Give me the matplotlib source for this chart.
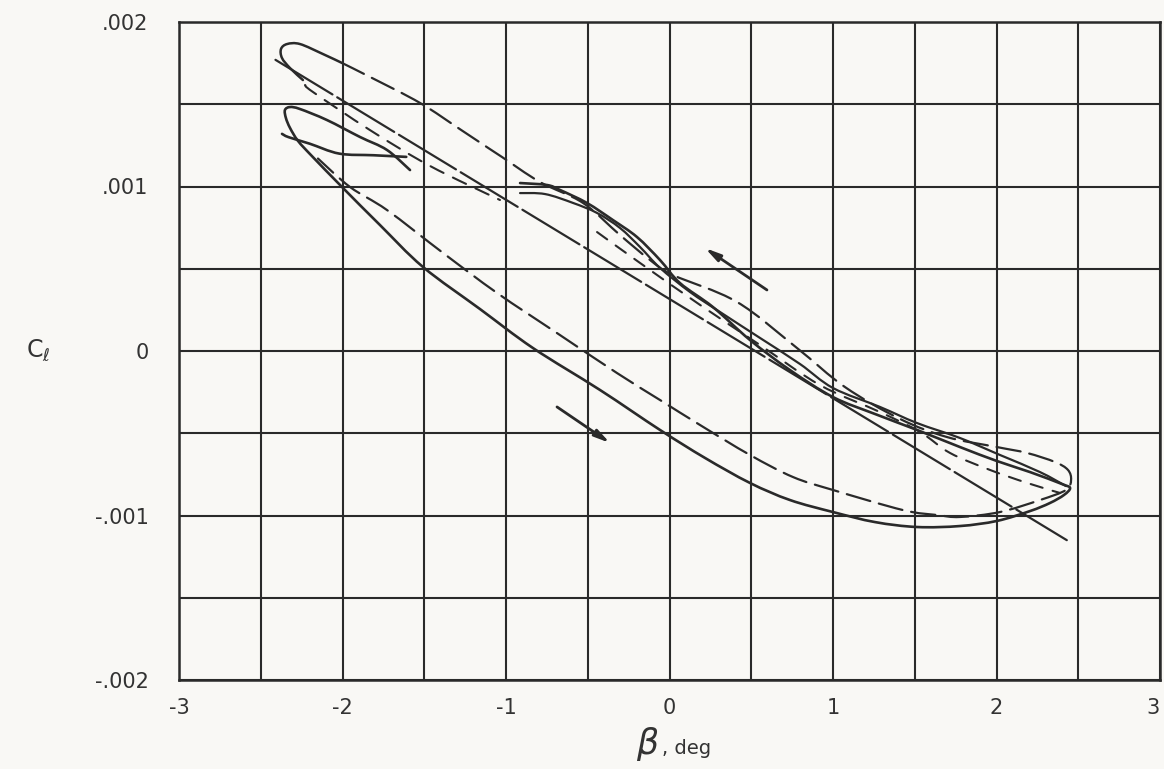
import matplotlib
matplotlib.use("Agg")
import matplotlib.pyplot as plt
from matplotlib.path import Path
from matplotlib.patches import PathPatch
import numpy as np

# ---- data: sideslip angle (deg) and rolling-moment coefficient (units of 0.001) ----
static_beta = [-2.41, 2.43]
static_cl = [1.77, -1.15]

run_a_apex_beta = [-2.242, -2.321, -2.370, -2.376, -2.339, -2.260, -2.119, -2.003]
run_a_apex_cl = [1.647, 1.720, 1.781, 1.836, 1.866, 1.866, 1.805, 1.751]

run_a_beta = [-2.003, -1.820, -1.526, -1.281, -1.116, -1.024, -0.792, -0.529, -0.303,
              -0.119, 0.021, 0.413, 0.780, 1.073, 1.410, 1.697, 2.003, 2.187, 2.358,
              2.437, 2.456, 2.425, 2.266, 2.021, 1.777, 1.636, 1.428, 1.000, 0.755,
              0.492, 0.187, -0.058, -0.321, -0.688, -1.055, -1.385, -1.728, -1.954, -2.150]
run_a_cl = [1.751, 1.660, 1.508, 1.348, 1.239, 1.179, 1.027, 0.900, 0.705,
            0.553, 0.462, 0.298, 0.018, -0.219, -0.413, -0.523, -0.584, -0.620, -0.675,
            -0.723, -0.784, -0.845, -0.906, -0.979, -1.009, -0.997, -0.967, -0.845, -0.766,
            -0.632, -0.450, -0.298, -0.134, 0.109, 0.353, 0.596, 0.857, 0.997, 1.170]

run_a2_beta = [-2.229, -2.180, -1.832, -1.465, -1.037]
run_a2_cl = [1.617, 1.574, 1.343, 1.125, 0.918]

run_b_beta = [-1.587, -1.728, -1.893, -2.095, -2.260, -2.321, -2.352, -2.346, -2.321,
              -2.272, -2.187, -2.003, -1.771, -1.508, -1.159, -0.835, -0.425, -0.058,
              0.217, 0.492, 0.737, 1.000, 1.257, 1.514, 1.777, 2.003, 2.205, 2.327,
              2.413, 2.450, 2.401, 2.205, 2.003, 1.777, 1.514, 1.257, 1.000, 0.737,
              0.492, 0.266, 0.064, -0.058, -0.199, -0.346, -0.505, -0.670, -0.749, -0.914]
run_b_cl = [1.100, 1.222, 1.301, 1.404, 1.471, 1.483, 1.465, 1.416, 1.356,
            1.277, 1.185, 0.997, 0.766, 0.511, 0.255, 0.018, -0.237, -0.480,
            -0.650, -0.802, -0.906, -0.979, -1.040, -1.070, -1.064, -1.033, -0.973, -0.924,
            -0.875, -0.833, -0.809, -0.736, -0.669, -0.584, -0.480, -0.383, -0.280, -0.116,
            0.067, 0.267, 0.413, 0.553, 0.693, 0.796, 0.900, 0.979, 1.009, 1.021]

run_c_beta = [-0.914, -0.761, -0.590, -0.443, -0.303, -0.180, -0.058, 0.125, 0.309,
              0.554, 0.798, 1.000, 1.287, 1.514, 1.777, 2.021, 2.266, 2.425]
run_c_cl = [0.960, 0.954, 0.900, 0.839, 0.748, 0.632, 0.505, 0.359, 0.237,
            0.079, -0.079, -0.225, -0.340, -0.438, -0.529, -0.632, -0.736, -0.821]

run_d_beta = [-0.443, -0.180, 0.187, 0.554, 0.920, 1.287, 1.532, 1.716, 1.960, 2.187, 2.388]
run_d_cl = [0.723, 0.535, 0.280, 0.036, -0.207, -0.371, -0.492, -0.620, -0.723, -0.802, -0.863]

hook_beta = [-2.37, -2.33, -2.20, -2.02, -1.81, -1.61]
hook_cl = [1.32, 1.30, 1.26, 1.20, 1.19, 1.18]

arrow_tail_beta = [-0.688, 0.596]
arrow_tail_cl = [-0.340, 0.371]
arrow_head_beta = [-0.364, 0.217]
arrow_head_cl = [-0.559, 0.626]

x_ticks = [-3, -2.5, -2, -1.5, -1, -0.5, 0, 0.5, 1, 1.5, 2, 2.5, 3]
x_labels = ["-3", "", "-2", "", "-1", "", "0", "", "1", "", "2", "", "3"]
y_ticks = [-0.002, -0.0015, -0.001, -0.0005, 0.0, 0.0005, 0.001, 0.0015, 0.002]
y_labels = ["-.002", "", "-.001", "", "0", "", ".001", "", ".002"]

SCALE = 1e-3
ink = "#2a2a2a"
text_ink = "#333333"
paper = "#f9f8f5"

plt.rcParams["font.family"] = ["DejaVu Sans"]

fig = plt.figure(figsize=(11.64, 7.69), dpi=100, facecolor=paper)
ax = fig.add_axes([179 / 1164, 1 - 680 / 769, 981 / 1164, 658 / 769])
ax.set_facecolor(paper)
ax.set_xlim(-3, 3)
ax.set_ylim(-0.002, 0.002)

ax.set_xticks(x_ticks)
ax.set_xticklabels(x_labels)
ax.set_yticks(y_ticks)
ax.set_yticklabels(y_labels)
ax.tick_params(length=0, labelsize=15, colors=text_ink)
ax.tick_params(axis="x", pad=13)
ax.tick_params(axis="y", pad=22)
# the last x label sits at the figure edge; anchor it on its right side
ax.get_xticklabels()[-1].set_horizontalalignment("right")
ax.grid(True, color=ink, lw=1.5, zorder=1)
ax.set_axisbelow(True)
for s in ax.spines.values():
    s.set_color(ink)
    s.set_linewidth(1.8)


def curve(b, c, **kw):
    """Draw a faired curve through the recorded points (cubic Bezier segments)."""
    pts = np.column_stack([np.asarray(b, float), np.asarray(c, float) * SCALE])
    n = len(pts)
    if n == 2:
        verts = [pts[0], pts[1]]
        codes = [Path.MOVETO, Path.LINETO]
    else:
        ext = np.vstack([pts[0], pts, pts[-1]])
        verts = [pts[0]]
        codes = [Path.MOVETO]
        for i in range(n - 1):
            p0, p1, p2, p3 = ext[i], ext[i + 1], ext[i + 2], ext[i + 3]
            verts += [p1 + (p2 - p0) / 6.0, p2 - (p3 - p1) / 6.0, p2]
            codes += [Path.CURVE4] * 3
    patch = PathPatch(Path(verts, codes), fill=False, edgecolor=ink,
                      capstyle="round", joinstyle="round", zorder=3, **kw)
    ax.add_patch(patch)


curve(static_beta, static_cl, lw=1.6, linestyle=(0, (30, 2.5)))
curve(run_a_apex_beta, run_a_apex_cl, lw=1.8)
curve(run_a_beta, run_a_cl, lw=1.6, linestyle=(0, (11, 4)))
curve(run_a2_beta, run_a2_cl, lw=1.5, linestyle=(0, (7, 5)))
curve(run_b_beta, run_b_cl, lw=1.9)
curve(run_c_beta, run_c_cl, lw=1.6)
curve(run_d_beta, run_d_cl, lw=1.5, linestyle=(0, (6, 5)))
curve(hook_beta, hook_cl, lw=1.9)

for tb, tc, hb, hc in zip(arrow_tail_beta, arrow_tail_cl, arrow_head_beta, arrow_head_cl):
    ax.annotate("", xy=(hb, hc * SCALE), xytext=(tb, tc * SCALE),
                arrowprops=dict(arrowstyle="-|>,head_length=0.9,head_width=0.22",
                                color=ink, lw=2.0, shrinkA=0, shrinkB=0),
                zorder=4)

fig.text(38 / 1164, 1 - 350 / 769, r"$\mathrm{C}_{\ell}$", fontsize=17,
         color=text_ink, ha="center", va="center")
fig.text(648 / 1164, 1 - 744 / 769, r"$\beta$", fontsize=25,
         color=text_ink, ha="center", va="center")
fig.text(662 / 1164, 1 - 748 / 769, ", deg", fontsize=14,
         color=text_ink, ha="left", va="center")

fig.savefig("out.png", dpi=100, facecolor=paper)
